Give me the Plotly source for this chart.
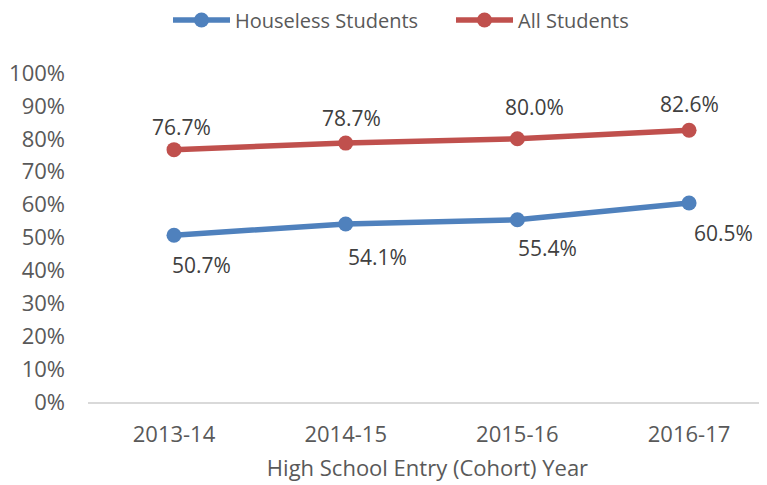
import plotly.graph_objects as go

years = ["2013-14", "2014-15", "2015-16", "2016-17"]
houseless = [0.507, 0.541, 0.554, 0.605]
all_students = [0.767, 0.787, 0.800, 0.826]
y_ticks = [i / 10 for i in range(11)]

BLUE = "#4F81BD"
RED = "#C0504D"
FONT = "Open Sans"

# the page body adds an 8px offset; figure is sized to fit inside the window
W, H = 759, 477

# label offsets in pixels (dx, dy up)
red_off = [(7, 23), (6, 25), (17, 32), (0, 26)]
blue_off = [(27, -30), (32, -33), (30, -28), (34, -30)]

xs = list(range(len(years)))
fig = go.Figure()
fig.add_trace(go.Scatter(
    x=xs, y=houseless, name="Houseless Students", mode="lines+markers",
    line=dict(color=BLUE, width=5.5), marker=dict(color=BLUE, size=15),
))
fig.add_trace(go.Scatter(
    x=xs, y=all_students, name="All Students", mode="lines+markers",
    line=dict(color=RED, width=5.5), marker=dict(color=RED, size=15),
))

ann = []
for i, v in enumerate(all_students):
    ann.append(dict(x=xs[i], y=v, text=f"{v*100:.1f}%", showarrow=False,
                    xshift=red_off[i][0], yshift=red_off[i][1],
                    font=dict(family=FONT, size=21, color="#404040")))
for i, v in enumerate(houseless):
    ann.append(dict(x=xs[i], y=v, text=f"{v*100:.1f}%", showarrow=False,
                    xshift=blue_off[i][0], yshift=blue_off[i][1],
                    font=dict(family=FONT, size=21, color="#404040")))

fig.update_layout(
    width=W, height=H,
    margin=dict(l=80, r=0, t=65, b=83),
    plot_bgcolor="white", paper_bgcolor="white",
    font=dict(family=FONT, size=22, color="#595959"),
    showlegend=True,
    legend=dict(orientation="h", x=160 / W, xref="container", xanchor="left",
                y=1 - 12 / H, yref="container", yanchor="middle",
                font=dict(family=FONT, size=20, color="#595959"),
                itemwidth=57, entrywidthmode="pixels", entrywidth=211),
    annotations=ann,
    xaxis=dict(
        tickmode="array", tickvals=xs, ticktext=years, automargin=False,
        range=[-0.501, 3.454], showgrid=False, zeroline=False,
        showline=True, linecolor="#D9D9D9", linewidth=2, ticks="",
        ticklabelstandoff=12,
        title=dict(text="High School Entry (Cohort) Year", standoff=13,
                   font=dict(family=FONT, size=22, color="#595959")),
        tickfont=dict(family=FONT, size=22, color="#595959"),
    ),
    yaxis=dict(
        range=[0, 1], tickvals=y_ticks, tickformat=".0%", automargin=False,
        showgrid=False, zeroline=False, showline=False, ticks="",
        ticklabelstandoff=22,
        tickfont=dict(family=FONT, size=22, color="#595959"),
    ),
)

fig.write_html("out.html")
